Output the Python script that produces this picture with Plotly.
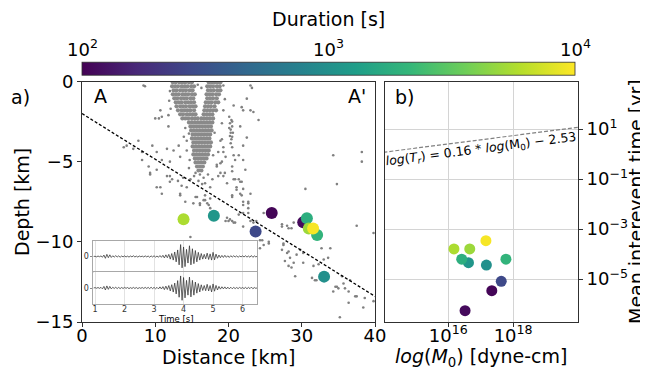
import numpy as np
import plotly.graph_objects as go

# ------------------------------------------------------------------ data
# repeating events (panel a: location on profile A-A', panel b: moment vs recurrence)
event_dist = [13.86, 18.0, 25.9, 23.7, 30.2, 30.7, 30.96, 32.1, 33.05, 31.55]
event_depth = [-8.59, -8.37, -8.2, -9.36, -8.78, -8.53, -9.17, -9.58, -12.17, -9.17]
event_duration = [5600, 1120, 105, 280, 112, 1780, 5000, 2000, 1000, 9500]
event_m0 = [1.5e16, 4.2e16, 2.2e17, 4.3e17, 3.3e16, 2.6e16, 4.6e16, 6.0e17, 1.5e17, 1.45e17]
event_tr = [1.6e-4, 4.5e-5, 3.4e-6, 8.1e-6, 5.4e-7, 6.2e-5, 1.6e-4, 6.2e-5, 3.6e-5, 3.4e-4]

# slab interface (dashed) in panel a
slab_dist = [0, 40]
slab_depth = [-2.0, -13.4]

# scaling relation drawn in panel b
trend_m0 = [1e14, 1e20]
trend_tr = [1.17, 11.7]

# background seismicity: dense rows (depth, list of distances)
seis_dense_rows = [
    (-0.05, [12.4, 12.8, 13.3, 13.7, 14.1, 14.6, 15.0, 17.3, 17.7, 18.1, 18.5, 18.9]),
    (-0.3, [12.3, 12.7, 13.1, 13.6, 14.0, 14.4, 14.9, 15.3, 17.1, 17.5, 17.9, 18.4, 18.8]),
    (-0.55, [12.5, 12.9, 13.4, 13.8, 14.2, 14.7, 15.1, 17.2, 17.6, 18.0, 18.5, 18.9]),
    (-0.8, [12.4, 12.8, 13.2, 13.7, 14.1, 14.5, 15.0, 15.4, 17.0, 17.4, 17.8, 18.3, 18.7]),
    (-1.05, [12.6, 13.0, 13.5, 13.9, 14.3, 14.8, 15.2, 17.1, 17.5, 17.9, 18.4]),
    (-1.3, [12.8, 13.2, 13.6, 14.1, 14.5, 14.9, 15.3, 16.9, 17.3, 17.7, 18.2, 18.6]),
    (-1.55, [12.9, 13.4, 13.8, 14.2, 14.7, 15.1, 15.5, 16.8, 17.2, 17.6, 18.1]),
    (-1.8, [13.1, 13.6, 14.0, 14.4, 14.8, 15.3, 16.7, 17.1, 17.5, 17.9, 18.3]),
    (-2.05, [13.4, 13.8, 14.3, 14.7, 15.1, 15.5, 16.6, 17.0, 17.4, 17.8]),
    (-2.3, [13.7, 14.1, 14.5, 15.0, 15.4, 15.8, 16.3, 16.7, 17.1, 17.5, 17.9]),
    (-2.55, [14.6, 15.0, 15.4, 15.8, 16.2, 16.6, 17.0, 17.4, 17.8]),
    (-2.8, [14.8, 15.2, 15.6, 16.0, 16.4, 16.8, 17.2, 17.6]),
    (-3.05, [14.9, 15.3, 15.7, 16.1, 16.5, 16.9, 17.3, 17.7]),
    (-3.3, [15.1, 15.5, 15.9, 16.3, 16.7, 17.1, 17.5]),
    (-3.55, [15.0, 15.4, 15.8, 16.2, 16.6, 17.0, 17.4]),
    (-3.8, [15.2, 15.6, 16.0, 16.4, 16.8, 17.2, 17.6]),
    (-4.05, [15.1, 15.5, 15.9, 16.3, 16.7, 17.1, 17.5]),
    (-4.3, [15.3, 15.7, 16.1, 16.5, 16.9, 17.3]),
    (-4.55, [15.2, 15.6, 16.0, 16.4, 16.8, 17.2]),
    (-4.8, [15.4, 15.8, 16.2, 16.6, 17.0]),
    (-5.05, [15.5, 15.9, 16.3, 16.7]),
    (-5.3, [15.7, 16.1, 16.5]),
    (-5.55, [15.9, 16.3]),
]

# background seismicity: scattered events (distance, depth)
seis_sparse = [
    (8.4, -0.25), (8.6, -0.3), (10.7, -1.8), (10.9, -2.2), (10.5, -2.3), (10.0, -2.3),
    (11.8, -2.1), (11.8, -2.8), (7.7, -3.7), (6.1, -4.0), (5.7, -4.1), (7.0, -4.2),
    (8.2, -4.4), (9.6, -4.0), (10.2, -4.4), (11.6, -4.2), (12.5, -4.3), (13.2, -4.0),
    (13.4, -4.7), (12.0, -5.0), (10.9, -4.9), (8.2, -4.9), (14.3, -3.7), (14.6, -3.25),
    (13.9, -3.45), (18.9, -3.7), (19.3, -4.1), (18.6, -4.4), (19.6, -4.7), (18.9, -5.1),
    (9.3, -5.7), (10.2, -5.5), (9.1, -5.3), (10.7, -6.6), (10.9, -7.0), (12.3, -6.1),
    (12.0, -5.9), (13.4, -7.1), (14.3, -6.6), (14.8, -6.1), (15.5, -5.7), (16.1, -5.8),
    (16.6, -6.0), (16.8, -6.35), (17.5, -6.6), (15.5, -7.2), (16.1, -7.6), (16.8, -7.4),
    (17.3, -7.7), (18.4, -5.3), (18.6, -5.9), (19.5, -5.7), (19.8, -6.35), (20.7, -6.1),
    (21.1, -6.75), (20.5, -7.2), (21.6, -7.0), (22.0, -7.7), (22.7, -7.6), (22.0, -8.2),
    (20.0, -8.7), (20.7, -8.8), (22.7, -8.2), (23.4, -8.8), (24.8, -8.2), (27.3, -8.9),
    (28.0, -9.0), (28.6, -9.15), (28.9, -8.8), (30.5, -6.7), (34.8, -6.4), (37.5, -9.0),
    (39.8, -9.45), (38.2, -5.0), (38.2, -4.4), (34.3, -4.6),
    (23.0, -0.25), (23.2, -0.4), (22.5, -1.07), (21.8, -1.6), (22.0, -1.8), (23.0, -1.8),
    (23.4, -1.9), (24.1, -2.4), (21.6, -2.8), (22.5, -3.5), (22.0, -4.0), (21.4, -4.6),
    (20.9, -4.9), (22.0, -4.9), (22.3, -5.5), (20.5, -5.3), (21.4, -6.1), (21.8, -6.25),
    (21.1, -6.6), (20.5, -7.1), (19.1, -3.6), (19.3, -4.4), (19.1, -5.0), (18.4, -5.2),
    (18.9, -5.7), (19.3, -5.9), (20.5, -5.6), (20.5, -4.1), (20.7, -4.6),
    (20.1, -2.2), (20.4, -2.4), (20.2, -2.6), (20.5, -2.8), (20.3, -3.0), (20.6, -3.2),
    (20.2, -3.4), (20.4, -3.6), (20.3, -3.85), (20.5, -2.5), (20.3, -3.2), (20.1, -2.9),
    (20.5, -3.45), (20.7, -1.5), (19.5, -1.1), (19.3, -0.25),
    (9.3, -5.8), (10.2, -6.6), (11.6, -5.9), (12.0, -6.25), (13.4, -7.0), (14.1, -7.5),
    (15.2, -7.6), (15.7, -7.2), (16.1, -7.7), (16.8, -7.1), (17.5, -7.9), (19.8, -8.5),
    (20.5, -8.7), (21.4, -8.3), (22.0, -7.5), (22.7, -7.9), (21.6, -6.25), (20.9, -6.1),
    (22.0, -6.7), (23.0, -7.0), (23.8, -8.7), (27.3, -9.05), (28.2, -9.15),
    (24.3, -9.9), (24.8, -10.2), (25.5, -10.1), (24.3, -10.4), (27.3, -10.5), (27.5, -10.2),
    (28.0, -10.7), (28.4, -11.0), (27.7, -11.2), (28.9, -11.3), (29.3, -10.8), (29.8, -10.5),
    (30.2, -10.7), (28.2, -11.5), (28.6, -11.6), (31.6, -11.5), (29.1, -12.15), (31.4, -12.25),
    (31.8, -12.4), (32.3, -11.4), (33.9, -10.4), (33.6, -11.0), (34.6, -12.8), (35.0, -12.9),
    (34.3, -13.1), (35.7, -12.6), (35.9, -12.9), (36.4, -13.1), (35.5, -12.15), (36.6, -12.4),
    (37.5, -13.4), (38.6, -13.5), (36.4, -13.8), (38.4, -14.1), (35.2, -14.7), (39.8, -13.7),
    (23.0, -8.7), (22.0, -9.05), (24.6, -9.9), (25.5, -10.0), (27.5, -10.1), (28.2, -10.6),
    (30.2, -11.3), (32.0, -12.4), (32.7, -10.4), (33.0, -11.1), (34.8, -12.8), (37.3, -13.4),
    (17.1, -7.6), (17.5, -7.3), (16.6, -7.4), (21.8, -7.1), (22.7, -7.5), (20.2, -8.6),
    (20.9, -8.8), (19.6, -8.7), (14.8, -9.7), (15.3, -5.9), (15.9, -6.2), (16.4, -6.4),
    (13.1, -6.2), (13.6, -6.5), (13.8, -6.0), (14.6, -5.4), (17.2, -5.8), (17.8, -6.1),
    (12.0, -0.6), (11.9, -1.2), (12.1, -1.7), (15.8, -0.2), (16.3, -0.4), (19.3, -1.8),
    (19.1, -2.6), (14.1, -2.9), (14.3, -4.3), (17.9, -4.6), (18.1, -3.2), (14.7, -4.9),
]

# inset waveforms (two repeating events), time in s
wave_time = [round(0.95 + 0.05 * i, 2) for i in range(112)]
wave_1 = [
    0.00, 0.02, -0.03, 0.04, -0.02, 0.05, -0.06, 0.12, -0.15, 0.18, -0.10, 0.14,
    -0.08, 0.06, -0.05, 0.07, -0.04, 0.05, -0.06, 0.04, -0.03, 0.05, -0.04, 0.03,
    -0.05, 0.04, -0.03, 0.06, -0.04, 0.03, -0.05, 0.04, -0.02, 0.03, -0.04, 0.05,
    -0.03, 0.04, -0.06, 0.05, -0.04, 0.06, -0.05, 0.04, -0.06, 0.08, -0.07, 0.10,
    -0.12, 0.14, -0.10, 0.18, -0.22, 0.25, -0.30, 0.38, -0.45, 0.55, -0.70, 1.00,
    -0.95, 0.80, -0.85, 0.60, -0.55, 0.90, -0.70, 0.65, -0.60, 0.50, -0.45, 0.35,
    -0.30, 0.25, -0.22, 0.18, -0.20, 0.28, -0.25, 0.22, -0.30, 0.35, -0.28, 0.20,
    -0.15, 0.12, -0.10, 0.09, -0.08, 0.10, -0.07, 0.06, -0.08, 0.07, -0.05, 0.06,
    -0.04, 0.05, -0.06, 0.04, -0.03, 0.05, -0.04, 0.06, -0.05, 0.04, -0.06, 0.08,
    -0.07, 0.05, -0.03, 0.02,
]
wave_2 = [
    0.00, 0.03, -0.02, 0.04, -0.03, 0.05, -0.07, 0.13, -0.16, 0.17, -0.11, 0.13,
    -0.07, 0.06, -0.04, 0.06, -0.05, 0.05, -0.05, 0.04, -0.04, 0.05, -0.03, 0.04,
    -0.05, 0.03, -0.04, 0.05, -0.04, 0.04, -0.05, 0.03, -0.03, 0.04, -0.04, 0.05,
    -0.04, 0.05, -0.05, 0.06, -0.05, 0.05, -0.06, 0.05, -0.07, 0.09, -0.08, 0.11,
    -0.13, 0.15, -0.12, 0.20, -0.24, 0.27, -0.33, 0.40, -0.48, 0.60, -0.75, 0.98,
    -1.00, 0.85, -0.80, 0.62, -0.58, 0.88, -0.72, 0.62, -0.58, 0.48, -0.42, 0.36,
    -0.32, 0.26, -0.20, 0.20, -0.22, 0.30, -0.24, 0.20, -0.32, 0.33, -0.26, 0.21,
    -0.16, 0.13, -0.09, 0.10, -0.07, 0.09, -0.08, 0.07, -0.07, 0.06, -0.06, 0.05,
    -0.05, 0.04, -0.05, 0.05, -0.04, 0.04, -0.05, 0.05, -0.06, 0.05, -0.05, 0.07,
    -0.06, 0.04, -0.03, 0.02,
]

cbar_ticks = [100, 1000, 10000]
cbar_ticktext = ["10<sup>2</sup>", "10<sup>3</sup>", "10<sup>4</sup>"]
dist_ticks = [0, 10, 20, 30, 40]
depth_ticks = [0, -5, -10, -15]
m0_ticks = [1e16, 1e18]
m0_ticktext = ["10<sup>16</sup>", "10<sup>18</sup>"]
tr_ticks = [1e1, 1e-1, 1e-3, 1e-5]
tr_ticktext = ["10<sup>1</sup>", "10<sup>\u22121</sup>", "10<sup>\u22123</sup>", "10<sup>\u22125</sup>"]
time_ticks = [1, 2, 3, 4, 5, 6]

# ------------------------------------------------------------------ layout helpers
# the page body adds an 8 px offset, so the figure is sized to fill the rest of the window
OFF = 8
W, H = 648 - OFF, 373 - OFF
FONT = "DejaVu Sans"
CB_LEFT, CB_RIGHT, CB_TOP, CB_BOTTOM = 82, 575, 63, 76


def fx(p):
    return (p - OFF) / W


def fy(p):
    return 1 - (p - OFF) / H


dense_x = [x for d, xs in seis_dense_rows for x in xs]
dense_y = [d for d, xs in seis_dense_rows for x in xs]
sparse_x = [p[0] for p in seis_sparse]
sparse_y = [p[1] for p in seis_sparse]

log_dur = list(np.log10(event_duration))

fig = go.Figure()

# panel a
fig.add_trace(go.Scatter(x=dense_x, y=dense_y, mode="markers", xaxis="x", yaxis="y",
                         marker=dict(color="#8a8a8a", size=4.2, line=dict(width=0)),
                         showlegend=False, hoverinfo="skip"))
fig.add_trace(go.Scatter(x=sparse_x, y=sparse_y, mode="markers", xaxis="x", yaxis="y",
                         marker=dict(color="#808080", size=2.6, line=dict(width=0)),
                         showlegend=False, hoverinfo="skip"))
fig.add_trace(go.Scatter(x=slab_dist, y=slab_depth, mode="lines", xaxis="x", yaxis="y",
                         line=dict(color="black", width=1.3, dash="3px,2px"), showlegend=False))
fig.add_trace(go.Scatter(x=event_dist, y=event_depth, mode="markers", xaxis="x", yaxis="y",
                         marker=dict(color=log_dur, coloraxis="coloraxis", size=12,
                                     line=dict(width=0)),
                         showlegend=False))

# panel b
fig.add_trace(go.Scatter(x=trend_m0, y=trend_tr, mode="lines", xaxis="x2", yaxis="y2",
                         line=dict(color="#808080", width=1.2, dash="4px,2px"), showlegend=False))
fig.add_trace(go.Scatter(x=event_m0, y=event_tr, mode="markers", xaxis="x2", yaxis="y2",
                         marker=dict(color=log_dur, coloraxis="coloraxis", size=11,
                                     line=dict(width=0)),
                         showlegend=False))

# inset waveforms
fig.add_trace(go.Scatter(x=wave_time, y=wave_1, mode="lines", xaxis="x3", yaxis="y3",
                         line=dict(color="#3a3a3a", width=0.8), showlegend=False))
fig.add_trace(go.Scatter(x=wave_time, y=wave_2, mode="lines", xaxis="x4", yaxis="y4",
                         line=dict(color="#3a3a3a", width=0.8), showlegend=False))

frame = dict(showline=True, mirror=True, linecolor="#303030", linewidth=1,
             ticks="outside", ticklen=4, tickwidth=1, tickcolor="#303030",
             zeroline=False, tickfont=dict(size=18, color="black", family=FONT))
inset_frame = dict(showline=True, mirror=True, linecolor="#a8a8a8", linewidth=0.8,
                   zeroline=False, tickfont=dict(size=8, color="#333", family=FONT))

ya_dom = [fy(322), fy(81.5)]

fig.update_layout(
    width=W, height=H,
    margin=dict(l=0, r=0, t=0, b=0, autoexpand=False),
    paper_bgcolor="white", plot_bgcolor="white",
    font=dict(family=FONT, color="black"),
    xaxis=dict(domain=[fx(82), fx(375)], anchor="y", range=[0, 40], tickvals=dist_ticks,
               showgrid=False, ticklabelstandoff=-7, **frame),
    yaxis=dict(domain=ya_dom, anchor="x", range=[-15, 0], tickvals=depth_ticks,
               showgrid=False, **frame),
    xaxis2=dict(domain=[fx(385), fx(578)], anchor="y2", type="log", range=[14.05, 20],
                tickvals=m0_ticks, ticktext=m0_ticktext, showgrid=True, gridcolor="#d4d4d4",
                ticklabelstandoff=-7, **frame),
    yaxis2=dict(domain=ya_dom, anchor="x2", type="log", range=[-6.72, 2.9], side="right",
                tickvals=tr_ticks, ticktext=tr_ticktext, showgrid=True, gridcolor="#d4d4d4",
                **frame),
    xaxis3=dict(domain=[fx(93.3), fx(257.3)], anchor="y3", range=[0.94, 6.5],
                tickvals=time_ticks, showticklabels=False, ticks="", showgrid=True,
                gridcolor="#e2e2e2", gridwidth=0.8, **inset_frame),
    yaxis3=dict(domain=[fy(272), fy(241)], anchor="x3", range=[-1.3, 1.3], tickvals=[0],
                ticks="outside", ticklen=2, tickcolor="#888", showgrid=False, **inset_frame),
    xaxis4=dict(domain=[fx(93.3), fx(257.3)], anchor="y4", range=[0.94, 6.5],
                tickvals=time_ticks, ticks="", showgrid=True, gridcolor="#e2e2e2",
                gridwidth=0.8, ticklabelstandoff=-3, **inset_frame),
    yaxis4=dict(domain=[fy(304), fy(272)], anchor="x4", range=[-1.3, 1.3], tickvals=[0],
                ticks="outside", ticklen=2, tickcolor="#888", showgrid=False, **inset_frame),
    coloraxis=dict(
        colorscale="Viridis", cmin=2, cmax=4,
        colorbar=dict(
            orientation="h", x=fx(CB_LEFT), xanchor="left", y=fy(CB_BOTTOM), yanchor="bottom",
            len=(CB_RIGHT - CB_LEFT) / W, lenmode="fraction",
            thickness=CB_BOTTOM - CB_TOP, xpad=0, ypad=0,
            outlinewidth=0.8, outlinecolor="#303030",
            tickvals=list(np.log10(cbar_ticks)), showticklabels=False, ticks="",
        ),
    ),
)

ann = [
    dict(text="Duration [s]", x=fx(328), y=fy(19), size=19),
    dict(text="Depth [km]", x=fx(22), y=fy(202), size=19, angle=-90),
    dict(text="Distance [km]", x=fx(228), y=fy(357), size=19),
    dict(text="<i>log</i>(<i>M</i><sub>0</sub>) [dyne-cm]", x=fx(481), y=fy(357), size=19),
    dict(text="Mean interevent time [yr]", x=fx(636), y=fy(202), size=19, angle=-90),
    dict(text="a)", x=fx(20), y=fy(97), size=19),
    dict(text="b)", x=fx(404), y=fy(97), size=19),
    dict(text="A", x=fx(100), y=fy(96), size=19),
    dict(text="A'", x=fx(357), y=fy(96), size=19),
    dict(text="Time [s]", x=fx(176), y=fy(319), size=8.5),
    dict(text="<i>log</i>(<i>T<sub>r</sub></i>) = 0.16 * <i>log</i>(M<sub>0</sub>) \u2212 2.53",
         x=fx(481), y=fy(149), size=12.5, angle=-7.4),
]
# colour-bar tick labels placed above the bar at the scale positions
lo, hi = np.log10(cbar_ticks[0]), np.log10(cbar_ticks[-1])
for val, txt in zip(cbar_ticks, cbar_ticktext):
    frac = (np.log10(val) - lo) / (hi - lo)
    ann.append(dict(text=txt, x=fx(CB_LEFT + frac * (CB_RIGHT - CB_LEFT)), y=fy(48), size=18))

for a in ann:
    fig.add_annotation(text=a["text"], x=a["x"], y=a["y"], xref="paper", yref="paper",
                       xanchor="center", yanchor="middle", showarrow=False,
                       textangle=a.get("angle", 0),
                       font=dict(size=a["size"], family=FONT, color="black"))

fig.write_html("out.html")
